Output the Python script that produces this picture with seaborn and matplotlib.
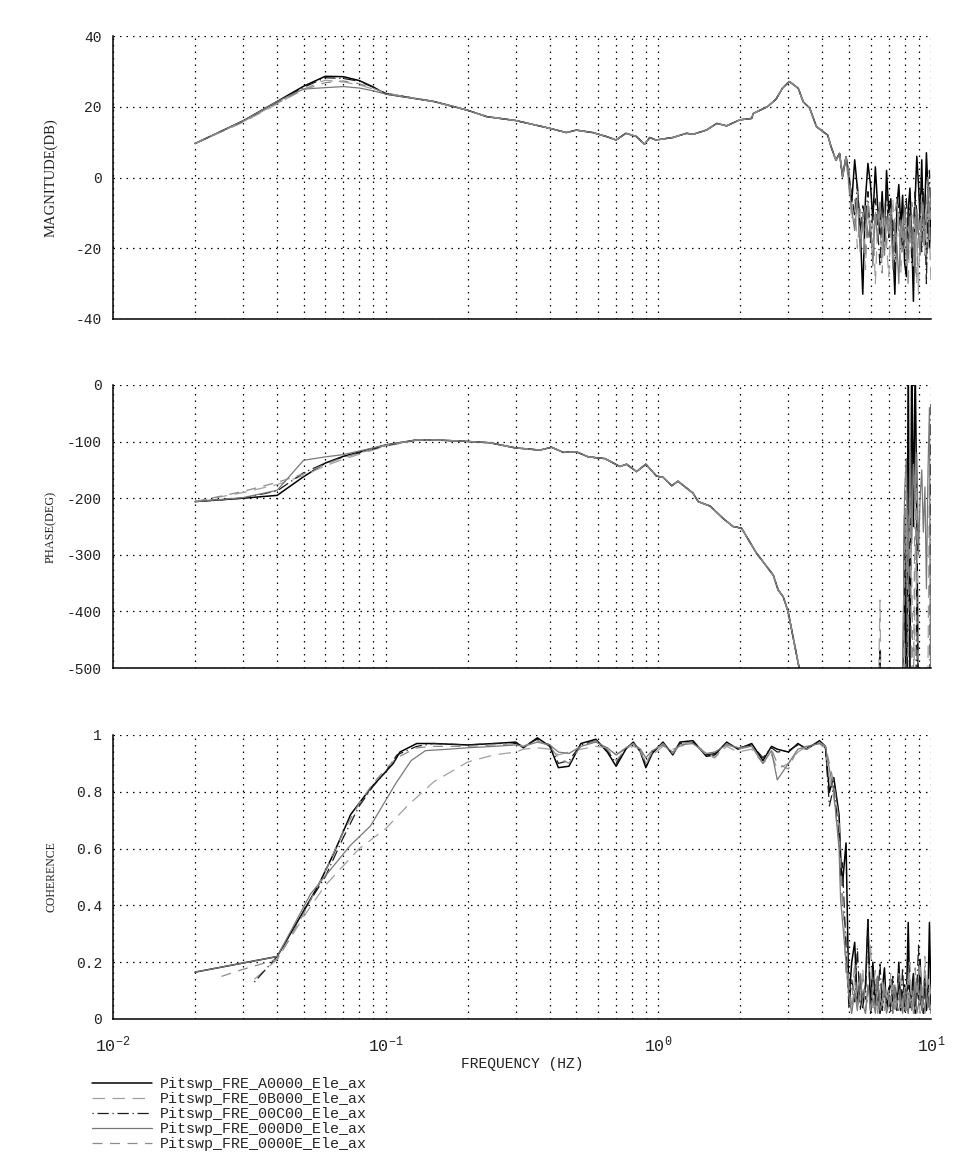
# Frequency response overlay: magnitude, phase and coherence of five sweeps.

import pandas as pd
import matplotlib.pyplot as plt
import seaborn as sns
from matplotlib.ticker import FixedLocator, FixedFormatter, LogLocator, NullFormatter, FuncFormatter

OUTPUT_FILE = "out.png"

SERIES = ["Pitswp_FRE_A0000_Ele_ax", "Pitswp_FRE_0B000_Ele_ax", "Pitswp_FRE_00C00_Ele_ax",
          "Pitswp_FRE_000D0_Ele_ax", "Pitswp_FRE_0000E_Ele_ax"]

DECADES = [0.01, 0.1, 1, 10]
DECADE_LABELS = ["$\\mathregular{10^{-2}}$", "$\\mathregular{10^{-1}}$",
                 "$\\mathregular{10^{0}}$", "$\\mathregular{10^{1}}$"]

# ---- high-frequency grid shared by the noisy tails (Hz)
F_HI = [5.0, 5.12, 5.25, 5.37, 5.5, 5.62, 5.75, 5.87, 6.0, 6.12, 6.25, 6.37, 6.5, 6.62,
        6.75, 6.87, 7.0, 7.12, 7.25, 7.37, 7.5, 7.62, 7.75, 7.87, 8.0, 8.12, 8.25, 8.37,
        8.5, 8.62, 8.75, 8.87, 9.0, 9.12, 9.25, 9.37, 9.5, 9.62, 9.75, 9.87, 10.0]

# ---- magnitude (dB)
F_MAG_LO = [0.02, 0.03, 0.04, 0.05, 0.06, 0.07, 0.08, 0.09, 0.1, 0.15]
MAG_LO_A = [9.6, 16.0, 21.5, 25.8, 28.6, 28.5, 27.4, 25.6, 23.6, 21.5]
MAG_LO_B = [9.6, 15.6, 20.8, 25.0, 27.5, 27.0, 26.2, 25.0, 23.8, 21.4]
MAG_LO_C = [9.6, 16.0, 21.3, 25.5, 28.2, 28.0, 27.2, 25.5, 23.8, 21.5]
MAG_LO_D = [9.6, 16.0, 21.5, 25.0, 25.4, 25.7, 25.3, 24.5, 23.6, 21.5]
MAG_LO_E = [9.6, 15.8, 21.0, 24.8, 26.8, 27.3, 26.5, 25.2, 23.9, 21.4]

F_MAG_MID = [0.2, 0.235, 0.3, 0.4, 0.46, 0.5, 0.575, 0.65, 0.7, 0.76, 0.83, 0.89, 0.93, 0.98,
             1.13, 1.27, 1.34, 1.5, 1.64, 1.78, 1.99, 2.2, 2.23, 2.51, 2.7, 2.85, 2.99, 3.03,
             3.26, 3.4, 3.59, 3.8, 4.01, 4.18, 4.3, 4.48, 4.62, 4.74, 4.88]
MAG_MID = [19.0, 17.2, 16.1, 13.9, 12.7, 13.4, 12.7, 11.5, 10.6, 12.5, 11.6, 9.4, 11.3, 10.6,
           11.3, 12.5, 12.2, 13.4, 15.3, 14.6, 16.3, 16.7, 18.1, 20.0, 22.1, 25.2, 26.8, 27.1,
           25.2, 21.4, 19.6, 14.4, 13.0, 12.0, 8.7, 4.9, 6.8, 0.2, 5.9]

MAG_HI_A = [1, -7, 5, -3, -14, -33, -6, 4, -2, -12, 3, -8, -16, -4, -18, 2, -10, -6, -20, -33,
            -8, -2, -14, -5, -24, -28, -9, -3, -17, -35, -6, 6, -2, -12, 5, -15, -8, 7, -4, -20, -10]
MAG_HI_B = [-3, -12, -6, -20, -9, -15, -26, -8, -18, -11, -30, -14, -7, -22, -10, -19, -28, -13,
            -6, -24, -16, -9, -27, -12, -20, -15, -31, -10, -18, -25, -8, -14, -33, -11, -5, -19,
            -12, -26, -8, -15, -30]
MAG_HI_C = [0, -5, -11, -2, -16, -8, -12, -4, -19, -9, -6, -14, -25, -7, -11, -3, -17, -10, -13,
            -28, -5, -9, -15, -20, -11, -6, -18, -8, -24, -13, -4, -10, -16, -7, -21, -3, -12, -30,
            -6, 2, -14]
MAG_HI_D = [-2, -9, -15, -6, -21, -12, -8, -17, -13, -25, -10, -18, -7, -14, -22, -11, -16, -9,
            -26, -13, -19, -30, -12, -17, -8, -15, -23, -11, -20, -14, -27, -9, -16, -22, -12, -8,
            -18, -13, -3, -10, -5]
MAG_HI_E = [2, -8, -13, -4, -18, -10, -22, -7, -14, -20, -9, -16, -12, -27, -8, -19, -11, -15,
            -23, -10, -6, -17, -13, -21, -9, -25, -14, -18, -7, -12, -20, -30, -11, -16, -6, -13,
            -22, -9, 0, -17, -8]

# ---- phase (deg)
F_PH_LO = [0.02, 0.03, 0.04, 0.05, 0.06, 0.07, 0.1, 0.13, 0.15]
PH_LO_A = [-206, -200, -195, -162, -138, -126, -106, -97, -97]
PH_LO_B = [-206, -190, -176, -160, -143, -131, -108, -98, -97]
PH_LO_C = [-206, -200, -187, -155, -138, -127, -107, -97, -97]
PH_LO_D = [-206, -199, -186, -133, -127, -123, -106, -97, -97]
PH_LO_E = [-206, -188, -172, -157, -140, -128, -107, -97, -97]

F_PH_MID = [0.187, 0.241, 0.298, 0.368, 0.406, 0.448, 0.501, 0.553, 0.637, 0.723, 0.765, 0.832,
            0.9, 0.985, 1.04, 1.12, 1.18, 1.34, 1.4, 1.55, 1.73, 1.88, 2.02, 2.29, 2.64, 2.75,
            2.87, 2.99, 3.3, 3.6, 4.0, 4.5, 4.88]
PH_MID = [-99, -102, -111, -115, -110, -119, -118, -127, -130, -144, -140, -153, -140, -161,
          -163, -178, -170, -191, -206, -214, -236, -250, -253, -297, -336, -362, -374, -400,
          -505, -560, -640, -730, -800]

PH_HI_A = [-850, -870, -900, -880, -920, -940, -910, -960, -980, -950, -990, -1010, -980, -1030,
           -1050, -1020, -1060, -1080, -1050, -1100, -1090, -1120, -900, -600, -230, -700, 60,
           -520, 80, -250, 40, -220, -620, -900, -1000, -1050, -1100, -1080, -1150, -1200, -1180]
PH_HI_B = [-820, -850, -880, -860, -900, -920, -890, -930, -950, -900, -800, -650, -380, -700,
           -900, -950, -980, -1000, -1020, -990, -1040, -1060, -800, -600, -450, -620, -300,
           -180, -520, -650, -300, -160, -560, -800, -900, -850, -700, -600, -500, -150, -560]
PH_HI_C = [-830, -860, -890, -870, -910, -930, -900, -940, -960, -920, -850, -700, -470, -760,
           -900, -960, -990, -1010, -1030, -1000, -1050, -1070, -950, -800, -650, -750, -280,
           -600, -720, -800, -700, -350, -700, -850, -950, -900, -850, -800, -750, -700, -30]
PH_HI_D = [-840, -860, -890, -880, -910, -930, -950, -940, -970, -990, -1000, -1020, -1040,
           -1010, -1060, -1080, -1050, -1100, -1120, -1090, -1000, -900, -750, -560, -190, -130,
           -350, -110, -280, -140, -210, -120, -300, -200, -150, -260, -180, -360, -150, -40, -700]
PH_HI_E = [-830, -850, -870, -860, -900, -920, -940, -930, -960, -980, -1000, -1010, -990,
           -1030, -1050, -1040, -1070, -1090, -1060, -1100, -1000, -850, -700, -650, -300, -150,
           -480, -200, -350, -560, -160, -420, -850, -900, -950, -1000, -900, -850, -700, -600, -800]

# ---- coherence
F_COH_LO_A = [0.02, 0.04, 0.05, 0.0566, 0.0643, 0.0744, 0.0876, 0.1066, 0.1128, 0.13, 0.15]
COH_LO_A = [0.165, 0.22, 0.38, 0.47, 0.58, 0.72, 0.81, 0.90, 0.94, 0.97, 0.97]
F_COH_LO_B = [0.033, 0.04, 0.05, 0.06, 0.07, 0.08, 0.1, 0.12, 0.15]
COH_LO_B = [0.14, 0.21, 0.36, 0.47, 0.54, 0.60, 0.67, 0.75, 0.835]
F_COH_LO_C = [0.033, 0.04, 0.05, 0.06, 0.07, 0.08, 0.09, 0.1, 0.11, 0.13, 0.15]
COH_LO_C = [0.13, 0.22, 0.38, 0.5, 0.64, 0.75, 0.82, 0.87, 0.93, 0.96, 0.97]
F_COH_LO_D = [0.02, 0.04, 0.053, 0.074, 0.088, 0.109, 0.124, 0.14, 0.17]
COH_LO_D = [0.165, 0.22, 0.44, 0.61, 0.68, 0.83, 0.91, 0.945, 0.95]
F_COH_LO_E = [0.025, 0.03, 0.04, 0.05, 0.06, 0.07, 0.08, 0.09, 0.1, 0.11, 0.13, 0.15]
COH_LO_E = [0.15, 0.175, 0.21, 0.37, 0.52, 0.66, 0.76, 0.83, 0.88, 0.92, 0.955, 0.96]

F_COH_MID = [0.2, 0.25, 0.3, 0.32, 0.36, 0.4, 0.43, 0.47, 0.52, 0.59, 0.65, 0.7, 0.76, 0.81,
             0.86, 0.9, 0.95, 1.04, 1.13, 1.2, 1.34, 1.5, 1.61, 1.78, 1.96, 2.2, 2.42, 2.6,
             2.73, 3.0, 3.25, 3.5, 3.9, 4.1, 4.24, 4.4, 4.6, 4.66, 4.73, 4.88]
COH_MID_A = [0.965, 0.97, 0.975, 0.955, 0.99, 0.96, 0.885, 0.89, 0.97, 0.985, 0.94, 0.89, 0.95,
             0.975, 0.94, 0.885, 0.935, 0.975, 0.93, 0.975, 0.98, 0.925, 0.93, 0.975, 0.95, 0.97,
             0.91, 0.96, 0.95, 0.94, 0.97, 0.95, 0.98, 0.96, 0.8, 0.85, 0.72, 0.58, 0.47, 0.62]
COH_MID_B = [0.905, 0.93, 0.94, 0.95, 0.955, 0.95, 0.93, 0.94, 0.95, 0.96, 0.955, 0.93, 0.95,
             0.96, 0.95, 0.9, 0.93, 0.96, 0.95, 0.96, 0.97, 0.94, 0.92, 0.96, 0.94, 0.95, 0.9,
             0.93, 0.88, 0.9, 0.94, 0.96, 0.97, 0.95, 0.85, 0.78, 0.62, 0.5, 0.4, 0.3]
COH_MID_C = [0.965, 0.97, 0.97, 0.96, 0.985, 0.965, 0.9, 0.91, 0.965, 0.98, 0.945, 0.9, 0.955,
             0.97, 0.945, 0.89, 0.94, 0.97, 0.935, 0.97, 0.975, 0.93, 0.935, 0.97, 0.955, 0.965,
             0.92, 0.955, 0.94, 0.945, 0.965, 0.955, 0.975, 0.955, 0.75, 0.82, 0.65, 0.5, 0.55, 0.25]
COH_MID_D = [0.955, 0.96, 0.965, 0.96, 0.975, 0.965, 0.94, 0.935, 0.96, 0.975, 0.955, 0.93,
             0.955, 0.97, 0.95, 0.92, 0.945, 0.965, 0.94, 0.965, 0.97, 0.935, 0.94, 0.965, 0.955,
             0.96, 0.9, 0.945, 0.842, 0.9, 0.95, 0.96, 0.97, 0.96, 0.88, 0.8, 0.6, 0.42, 0.35, 0.2]
COH_MID_E = [0.96, 0.965, 0.97, 0.96, 0.98, 0.96, 0.92, 0.9, 0.96, 0.98, 0.95, 0.91, 0.95, 0.97,
             0.94, 0.9, 0.94, 0.97, 0.935, 0.97, 0.975, 0.93, 0.92, 0.97, 0.95, 0.96, 0.9, 0.95,
             0.9, 0.88, 0.955, 0.95, 0.975, 0.96, 0.9, 0.83, 0.7, 0.55, 0.45, 0.15]

COH_HI_A = [0.06, 0.2, 0.27, 0.05, 0.15, 0.04, 0.12, 0.35, 0.03, 0.2, 0.05, 0.15, 0.02, 0.1,
            0.18, 0.03, 0.09, 0.14, 0.04, 0.11, 0.06, 0.2, 0.03, 0.09, 0.12, 0.05, 0.34, 0.04,
            0.1, 0.16, 0.02, 0.12, 0.07, 0.21, 0.04, 0.1, 0.15, 0.03, 0.08, 0.34, 0.05]
COH_HI_B = [0.1, 0.03, 0.15, 0.05, 0.08, 0.18, 0.02, 0.1, 0.27, 0.04, 0.12, 0.02, 0.07, 0.13,
            0.03, 0.09, 0.05, 0.16, 0.02, 0.11, 0.04, 0.08, 0.14, 0.03, 0.06, 0.12, 0.02, 0.2,
            0.05, 0.1, 0.03, 0.15, 0.08, 0.02, 0.12, 0.06, 0.22, 0.1, 0.04, 0.13, 0.07]
COH_HI_C = [0.04, 0.14, 0.06, 0.25, 0.03, 0.1, 0.07, 0.35, 0.02, 0.08, 0.12, 0.04, 0.2, 0.03,
            0.09, 0.06, 0.11, 0.02, 0.15, 0.07, 0.03, 0.13, 0.05, 0.18, 0.02, 0.09, 0.12, 0.04,
            0.07, 0.15, 0.03, 0.1, 0.26, 0.05, 0.08, 0.02, 0.13, 0.06, 0.11, 0.03, 0.09]
COH_HI_D = [0.08, 0.02, 0.1, 0.03, 0.16, 0.05, 0.02, 0.12, 0.04, 0.07, 0.02, 0.15, 0.03, 0.06,
            0.1, 0.02, 0.05, 0.08, 0.02, 0.12, 0.04, 0.03, 0.07, 0.02, 0.1, 0.05, 0.02, 0.08,
            0.03, 0.06, 0.13, 0.02, 0.05, 0.1, 0.03, 0.07, 0.02, 0.09, 0.04, 0.06, 0.02]
COH_HI_E = [0.12, 0.05, 0.2, 0.03, 0.09, 0.14, 0.04, 0.07, 0.03, 0.11, 0.17, 0.02, 0.08, 0.05,
            0.13, 0.03, 0.1, 0.06, 0.12, 0.02, 0.09, 0.16, 0.04, 0.07, 0.11, 0.03, 0.14, 0.06,
            0.1, 0.02, 0.18, 0.08, 0.13, 0.2, 0.05, 0.11, 0.17, 0.09, 0.14, 0.06, 0.1]

# line styles per sweep
COLORS = dict(zip(SERIES, ["#000000", "#a0a0a0", "#1a1a1a", "#787878", "#8c8c8c"]))
DASHES = dict(zip(SERIES, ["", (10, 6), (1, 3, 9, 3), "", (8, 6)]))
WIDTHS = dict(zip(SERIES, [1.1, 0.9, 0.9, 0.9, 0.9]))

GRID_STYLE = dict(color="black", linestyle=(0, (1.2, 4)), linewidth=0.9)
TICK_FONT = 10.5


def build_frame(parts):
    """Stack (freq list, value list) pairs into one long-form frame, one pair per sweep."""
    rows = []
    for name, (freqs, values) in zip(SERIES, parts):
        assert len(freqs) == len(values), name
        rows.extend((name, f, v) for f, v in zip(freqs, values))
    return pd.DataFrame(rows, columns=["series", "freq", "value"])


def style_axis(ax, ylim, yticks, ylabel, label_size, show_xlabels):
    ax.set_xscale("log")
    ax.set_xlim(0.01, 10)
    ax.set_ylim(*ylim)
    ax.set_yticks(yticks)
    ax.yaxis.set_major_formatter(FuncFormatter(lambda v, _: f"{v:g}"))
    ax.xaxis.set_major_locator(FixedLocator(DECADES))
    ax.xaxis.set_minor_locator(LogLocator(base=10, subs=(2, 3, 4, 5, 6, 7, 8, 9), numticks=20))
    ax.xaxis.set_minor_formatter(NullFormatter())
    if show_xlabels:
        ax.xaxis.set_major_formatter(FixedFormatter(DECADE_LABELS))
    else:
        ax.tick_params(axis="x", labelbottom=False)

    ax.grid(True, which="major", axis="both", **GRID_STYLE)
    ax.grid(True, which="minor", axis="x", **GRID_STYLE)
    ax.set_axisbelow(True)
    ax.tick_params(which="major", direction="out", length=5, width=1, colors="#222222",
                   labelsize=TICK_FONT, pad=3)
    ax.tick_params(axis="x", which="major", length=6, pad=5, labelsize=12)
    ax.tick_params(which="minor", length=0)
    for side in ("top", "right"):
        ax.spines[side].set_visible(False)
    for side in ("left", "bottom"):
        ax.spines[side].set_color("black")
        ax.spines[side].set_linewidth(1.1)

    ax.set_ylabel(ylabel, family="Liberation Serif", fontsize=label_size, color="#222222")
    ax.yaxis.set_label_coords(-0.068, 0.5)
    ax.set_xlabel("")


def plot_response():
    mag = build_frame([
        (F_MAG_LO + F_MAG_MID + F_HI, MAG_LO_A + MAG_MID + MAG_HI_A),
        (F_MAG_LO + F_MAG_MID + F_HI, MAG_LO_B + MAG_MID + MAG_HI_B),
        (F_MAG_LO + F_MAG_MID + F_HI, MAG_LO_C + MAG_MID + MAG_HI_C),
        (F_MAG_LO + F_MAG_MID + F_HI, MAG_LO_D + MAG_MID + MAG_HI_D),
        (F_MAG_LO + F_MAG_MID + F_HI, MAG_LO_E + MAG_MID + MAG_HI_E),
    ])
    phase = build_frame([
        (F_PH_LO + F_PH_MID + F_HI, PH_LO_A + PH_MID + PH_HI_A),
        (F_PH_LO + F_PH_MID + F_HI, PH_LO_B + PH_MID + PH_HI_B),
        (F_PH_LO + F_PH_MID + F_HI, PH_LO_C + PH_MID + PH_HI_C),
        (F_PH_LO + F_PH_MID + F_HI, PH_LO_D + PH_MID + PH_HI_D),
        (F_PH_LO + F_PH_MID + F_HI, PH_LO_E + PH_MID + PH_HI_E),
    ])
    coh = build_frame([
        (F_COH_LO_A + F_COH_MID + F_HI, COH_LO_A + COH_MID_A + COH_HI_A),
        (F_COH_LO_B + F_COH_MID + F_HI, COH_LO_B + COH_MID_B + COH_HI_B),
        (F_COH_LO_C + F_COH_MID + F_HI, COH_LO_C + COH_MID_C + COH_HI_C),
        (F_COH_LO_D + F_COH_MID + F_HI, COH_LO_D + COH_MID_D + COH_HI_D),
        (F_COH_LO_E + F_COH_MID + F_HI, COH_LO_E + COH_MID_E + COH_HI_E),
    ])

    fig = plt.figure(figsize=(9.74, 11.76), dpi=100)
    left, width = 113 / 974, 818 / 974
    ax_mag = fig.add_axes([left, 1 - 319 / 1176, width, 283 / 1176])
    ax_ph = fig.add_axes([left, 1 - 668 / 1176, width, 283 / 1176])
    ax_coh = fig.add_axes([left, 1 - 1019 / 1176, width, 284 / 1176])

    panels = [
        (ax_mag, mag, (-40, 40), [-40, -20, 0, 20, 40], "MAGNITUDE(DB)", 10.5, False),
        (ax_ph, phase, (-500, 0), [-500, -400, -300, -200, -100, 0], "PHASE(DEG)", 8.8, False),
        (ax_coh, coh, (0, 1), [0, 0.2, 0.4, 0.6, 0.8, 1], "COHERENCE", 8.5, True),
    ]
    for ax, frame, ylim, yticks, ylabel, label_size, is_bottom in panels:
        sns.lineplot(data=frame, x="freq", y="value", hue="series", style="series",
                     size="series", palette=COLORS, dashes=DASHES, sizes=WIDTHS,
                     estimator=None, sort=False, ax=ax,
                     legend="full" if is_bottom else False)
        style_axis(ax, ylim, yticks, ylabel, label_size, is_bottom)

    ax_coh.set_xlabel("FREQUENCY (HZ)", fontsize=10.5, color="#222222")
    ax_coh.xaxis.set_label_coords(0.5, -0.135)

    # move the seaborn legend below the plots, frameless like the original printout
    leg = ax_coh.get_legend()
    handles = list(leg.legend_handles)
    labels = [t.get_text() for t in leg.get_texts()]
    leg.remove()
    fig.legend(handles, labels, loc="upper left", bbox_to_anchor=(92 / 974, 1 - 1077 / 1176),
               frameon=False, fontsize=10.8, handlelength=4.0, handletextpad=0.53,
               labelspacing=0.07, borderpad=0, borderaxespad=0)

    fig.savefig(OUTPUT_FILE, dpi=100, facecolor="white")
    plt.close(fig)


if __name__ == "__main__":
    sns.set_theme(style="white")
    plt.rcParams["font.family"] = ["Liberation Mono", "DejaVu Sans Mono"]
    plt.rcParams["axes.unicode_minus"] = False
    plot_response()
